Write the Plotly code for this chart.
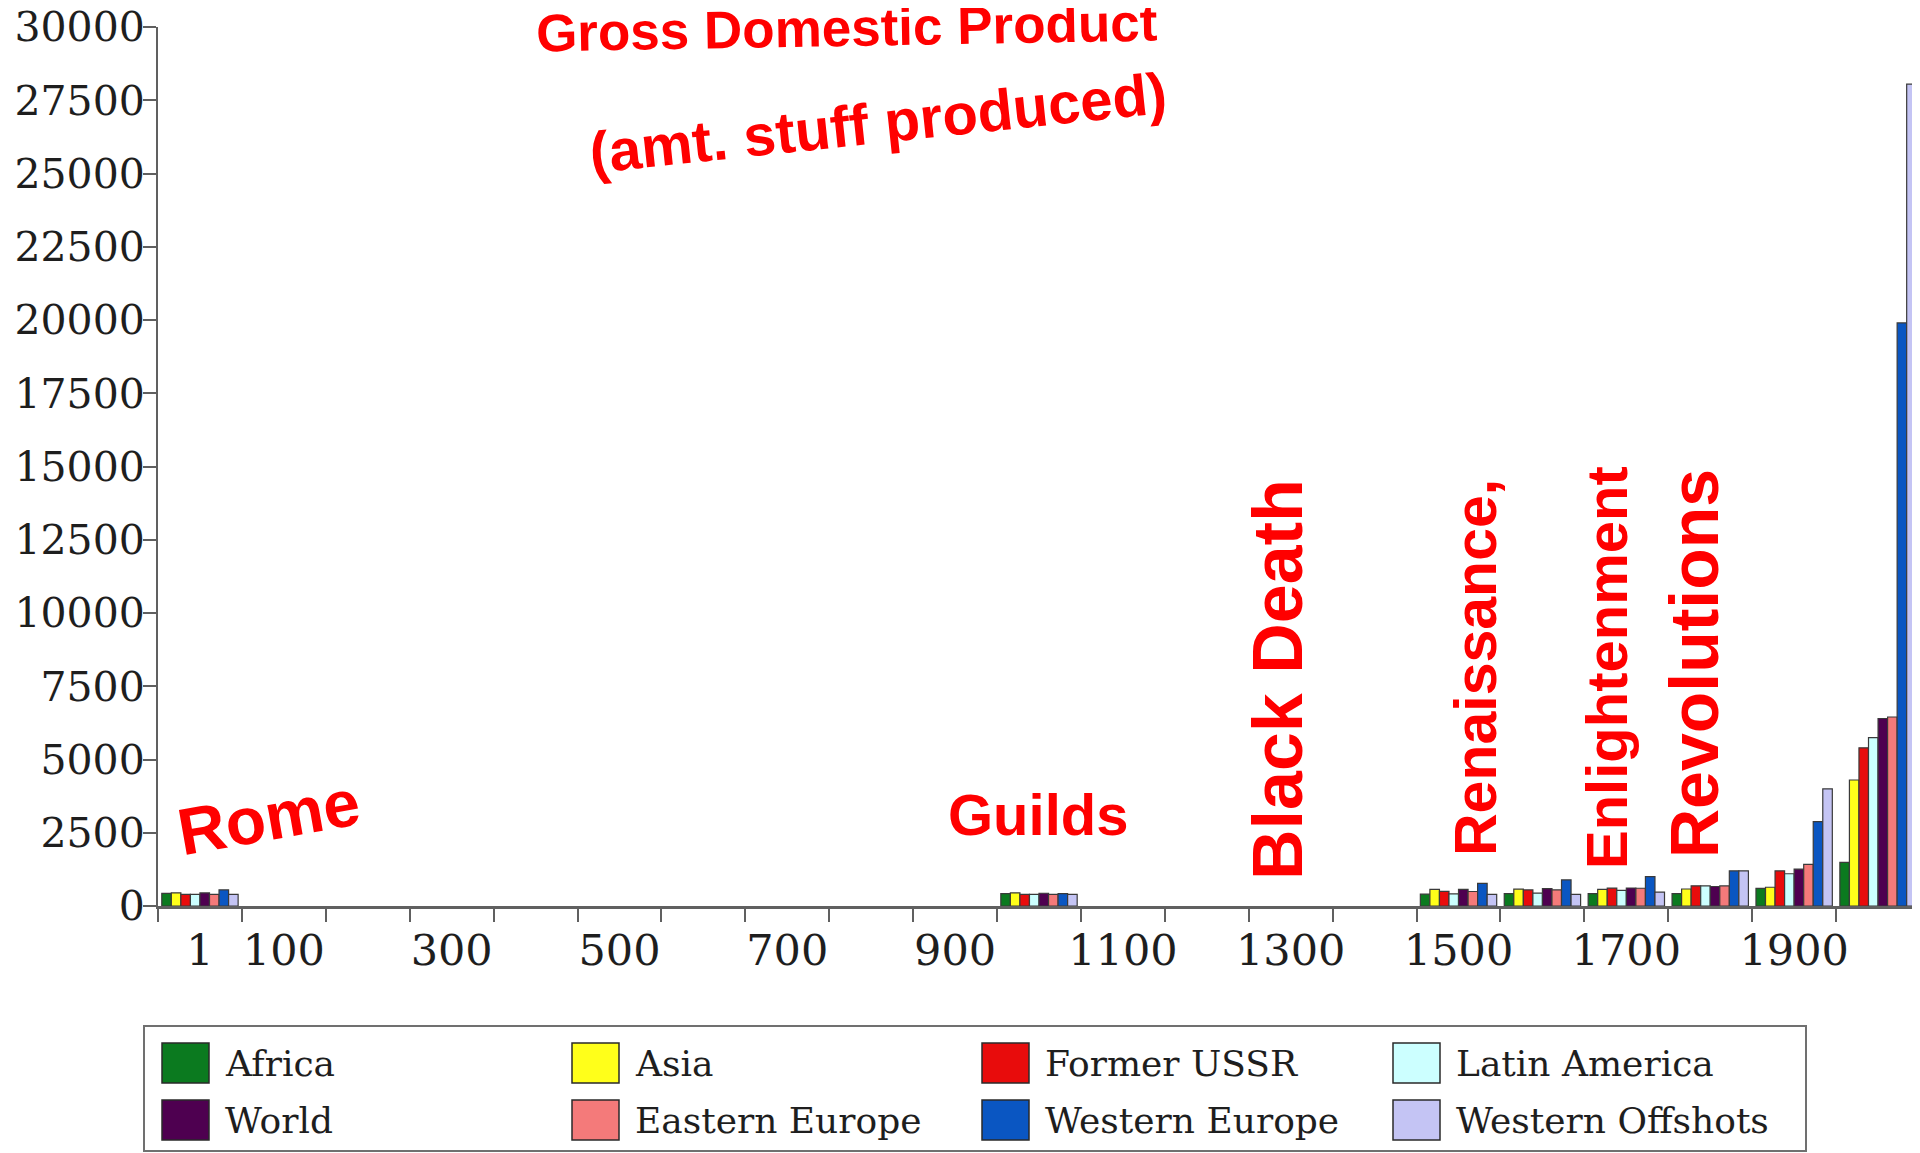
import plotly.graph_objects as go

# ---------------- data ----------------
years = [1, 1000, 1500, 1600, 1700, 1800, 1900, 2000]
series_names = ["Africa", "Asia", "Former USSR", "Latin America",
                "World", "Eastern Europe", "Western Europe", "Western Offshots"]
africa = [430, 425, 405, 420, 420, 420, 600, 1490]
asia = [450, 450, 570, 575, 570, 580, 640, 4300]
former_ussr = [400, 400, 500, 550, 610, 690, 1200, 5400]
latin_america = [400, 400, 415, 440, 530, 690, 1100, 5750]
world = [445, 435, 565, 595, 615, 665, 1260, 6400]
eastern_europe = [400, 400, 495, 550, 605, 685, 1420, 6450]
western_europe = [550, 425, 770, 890, 1000, 1200, 2880, 19900]
western_offshots = [400, 400, 400, 400, 475, 1200, 4000, 28050]
series_values = [africa, asia, former_ussr, latin_america,
                 world, eastern_europe, western_europe, western_offshots]
colors = ["#0b7a1f", "#ffff1a", "#e80c0c", "#ccffff",
          "#4e0050", "#f47a7a", "#0a56c2", "#c4c4f4"]
x_tick_labels = ["1", "100", "300", "500", "700", "900", "1100",
                 "1300", "1500", "1700", "1900"]
n_categories = 21
y_ticks = [0, 2500, 5000, 7500, 10000, 12500, 15000, 17500,
           20000, 22500, 25000, 27500, 30000]

# ---------------- geometry helpers ----------------
# the page body has an 8px margin, so the figure is drawn 8px in from the
# viewport corner; positions below are given in viewport pixels.
OFF = 8
W, H = 1912, 1145
L, R, T, B = 150, 0, 19, 247
PW, PH = W - L - R, H - T - B


def px(xv):
    return (xv - OFF - L) / PW


def py(yv):
    return (H - B - (yv - OFF)) / PH


SERIF = "DejaVu Serif, Liberation Serif, serif"
HAND = "Liberation Sans, Arial, sans-serif"

fig = go.Figure()
cat_pos = [y // 100 for y in years]
for name, vals, col in zip(series_names, series_values, colors):
    fig.add_trace(go.Bar(
        x=cat_pos, y=vals, name=name,
        marker=dict(color=col, line=dict(color="#3a3a3a", width=1.2)),
        showlegend=False,
    ))

fig.update_layout(
    width=W, height=H,
    margin=dict(l=L, r=R, t=T, b=B, pad=0, autoexpand=False),
    paper_bgcolor="white", plot_bgcolor="white",
    barmode="group", bargap=0.09, bargroupgap=0,
    xaxis=dict(
        range=[-0.5, n_categories - 0.5],
        automargin=False,
        tickmode="array",
        tickvals=[int(t) // 100 for t in x_tick_labels],
        ticktext=x_tick_labels,
        ticks="", showgrid=False, zeroline=False,
        showline=True, linecolor="#606060", linewidth=3,
        tickfont=dict(family=SERIF, size=43, color="#1e1e1e"),
        ticklabelstandoff=4,
        ticklabeloverflow="allow",
        minor=dict(tickmode="array",
                   tickvals=[i - 0.5 for i in range(n_categories + 1)],
                   ticks="outside", ticklen=13, tickwidth=2,
                   tickcolor="#606060", showgrid=False),
    ),
    yaxis=dict(
        range=[0, 30000],
        automargin=False,
        tickmode="array", tickvals=y_ticks,
        ticktext=[str(v) for v in y_ticks],
        ticks="outside", ticklen=13, tickwidth=2, tickcolor="#606060",
        showgrid=False, zeroline=False,
        showline=True, linecolor="#606060", linewidth=2,
        tickfont=dict(family=SERIF, size=41, color="#1e1e1e"),
        ticklabelstandoff=-10,
        ticklabeloverflow="allow",
    ),
)

# ---------------- manual legend ----------------
shapes = []
annotations = []
shapes.append(dict(type="rect", xref="paper", yref="paper",
                   x0=px(144), x1=px(1806), y0=py(1151), y1=py(1026),
                   line=dict(color="#707070", width=2), fillcolor="white",
                   layer="below"))
col_x = [162, 572, 982, 1393]
row_y = [1063, 1120]
sw_w, sw_h = 47, 40
for i, (name, col) in enumerate(zip(series_names, colors)):
    r, c = divmod(i, 4)
    x0 = col_x[c]
    yc = row_y[r]
    shapes.append(dict(type="rect", xref="paper", yref="paper",
                       x0=px(x0), x1=px(x0 + sw_w),
                       y0=py(yc + sw_h / 2), y1=py(yc - sw_h / 2),
                       line=dict(color="#2a2a2a", width=1.5), fillcolor=col))
    annotations.append(dict(x=px(x0 + sw_w + 14), y=py(yc), xref="paper",
                            yref="paper", text=name, showarrow=False,
                            xanchor="left", yanchor="middle",
                            font=dict(family=SERIF, size=36, color="#1e1e1e")))

# ---------------- handwritten red notes ----------------
notes = [
    ("Gross Domestic Product", 846, 27, -1, 53),
    ("(amt. stuff produced)", 878, 122, -6, 58),
    ("Rome", 268, 817, -10, 66),
    ("Guilds", 1038, 814, 0, 58),
    ("Black Death", 1278, 680, -90, 70),
    ("Renaissance,", 1476, 668, -90, 59),
    ("Enlightenment", 1606, 668, -90, 58),
    ("Revolutions", 1694, 664, -90, 68),
]
for text, xc, yc, ang, size in notes:
    annotations.append(dict(x=px(xc), y=py(yc), xref="paper", yref="paper",
                            text=text, showarrow=False, textangle=ang,
                            xanchor="center", yanchor="middle",
                            font=dict(family=HAND, size=size, color="#ff0000",
                                      weight="bold")))

fig.update_layout(shapes=shapes, annotations=annotations)
fig.write_html("out.html")
